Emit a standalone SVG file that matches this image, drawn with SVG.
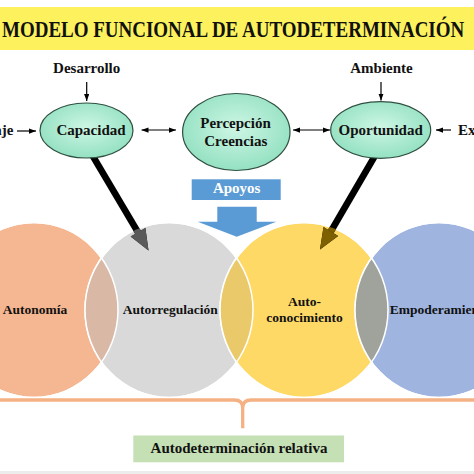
<svg xmlns="http://www.w3.org/2000/svg" xmlns:xlink="http://www.w3.org/1999/xlink" width="474" height="474" viewBox="0 0 474 474">
  <style>
    text { font-family: "Liberation Serif", "DejaVu Serif", serif; font-weight: bold; fill: #111; }
    .lbl { font-size: 15px; text-anchor: middle; }
    .cir { font-size: 13.5px; text-anchor: middle; }
    .thin { stroke: #000; stroke-width: 1.2; fill: none; marker-end: url(#ah); }
    .dbl { marker-start: url(#ahs); }
    .oval { fill: url(#mint); stroke: #2f4f40; stroke-width: 1.2; }
    .big { stroke: #fff; stroke-width: 1.5; }
  </style>
  <defs>
    <radialGradient id="mint" cx="50%" cy="45%" r="60%">
      <stop offset="0" stop-color="#cdf6e4"/>
      <stop offset="1" stop-color="#8fdfbf"/>
    </radialGradient>
    <marker id="ah" viewBox="0 0 8 6" markerWidth="7" markerHeight="5.5" refX="8" refY="3" orient="auto" markerUnits="userSpaceOnUse">
      <path d="M0,0 L8,3 L0,6 z" fill="#000"/>
    </marker>
    <marker id="ahs" viewBox="0 0 8 6" markerWidth="7" markerHeight="5.5" refX="8" refY="3" orient="auto-start-reverse" markerUnits="userSpaceOnUse">
      <path d="M0,0 L8,3 L0,6 z" fill="#000"/>
    </marker>
    <clipPath id="cO"><ellipse cx="34" cy="310" rx="84" ry="87.5"/></clipPath>
    <clipPath id="cG"><ellipse cx="169" cy="310" rx="84" ry="87.5"/></clipPath>
    <clipPath id="cY"><ellipse cx="304" cy="310" rx="84" ry="87.5"/></clipPath>
    <clipPath id="cB"><ellipse cx="439" cy="310" rx="84" ry="87.5"/></clipPath>
    <g id="arr1">
      <line x1="91" y1="153" x2="139" y2="234" stroke="currentColor" stroke-width="6.5"/>
      <polygon points="148.5,250.5 130.7,236.5 145.4,228.1" fill="currentColor"/>
    </g>
    <g id="arr2">
      <line x1="376" y1="154" x2="330.8" y2="231.5" stroke="currentColor" stroke-width="6.5"/>
      <polygon points="320,249.5 338.1,235.9 323.5,227.1" fill="currentColor"/>
    </g>
  </defs>

  <rect width="474" height="474" fill="#fff"/>
  <rect x="0" y="471" width="474" height="3" fill="#ececec"/>

  <g id="title">
    <rect x="0" y="7" width="474" height="43" fill="#fdf25e"/>
    <text x="2" y="31.4" font-size="19" transform="scale(1 1.18)">MODELO FUNCIONAL DE AUTODETERMINACIÓN</text>
  </g>

  <g id="circles">
    <g id="autonomia">
      <ellipse class="big" cx="34" cy="310" rx="84" ry="87.5" fill="#f5b791"/>
    </g>
    <g id="autorregulacion">
      <ellipse class="big" cx="169" cy="310" rx="84" ry="87.5" fill="#d9d9d9"/>
    </g>
    <g id="autoconocimiento">
      <ellipse class="big" cx="304" cy="310" rx="84" ry="87.5" fill="#ffd966"/>
    </g>
    <g id="empoderamiento">
      <ellipse class="big" cx="439" cy="310" rx="84" ry="87.5" fill="#9fb5e0"/>
    </g>
    <g id="lenses">
      <ellipse cx="169" cy="310" rx="84" ry="87.5" fill="#d9b8a6" clip-path="url(#cO)"/>
      <ellipse cx="304" cy="310" rx="84" ry="87.5" fill="#e9c96a" clip-path="url(#cG)"/>
      <ellipse cx="439" cy="310" rx="84" ry="87.5" fill="#9fa39b" clip-path="url(#cY)"/>
      <g fill="none" stroke="#fff" stroke-width="1.5">
        <ellipse cx="34" cy="310" rx="84" ry="87.5"/>
        <ellipse cx="169" cy="310" rx="84" ry="87.5"/>
        <ellipse cx="304" cy="310" rx="84" ry="87.5"/>
        <ellipse cx="439" cy="310" rx="84" ry="87.5"/>
      </g>
    </g>
    <text class="cir" x="35" y="313.5">Autonomía</text>
    <text class="cir" x="170.3" y="313.5">Autorregulación</text>
    <text class="cir" x="304.5" y="306">Auto-</text>
    <text class="cir" x="304.5" y="321.7">conocimiento</text>
    <text class="cir" x="389.7" y="313.5" style="text-anchor:start">Empoderamiento</text>
  </g>

  <g id="connectors">
    <line class="thin" x1="86.7" y1="82" x2="86.7" y2="101"/>
    <line class="thin" x1="381" y1="82" x2="381" y2="100.5"/>
    <line class="thin" x1="17" y1="131" x2="36" y2="131"/>
    <line class="thin" x1="451" y1="130" x2="436" y2="130"/>
    <line class="thin dbl" x1="141.5" y1="130" x2="176" y2="130"/>
    <line class="thin dbl" x1="293" y1="130" x2="330" y2="130"/>
    <use xlink:href="#arr1" href="#arr1" color="#000"/>
    <use xlink:href="#arr1" href="#arr1" color="#5a5a5a" clip-path="url(#cG)"/>
    <use xlink:href="#arr2" href="#arr2" color="#000"/>
    <use xlink:href="#arr2" href="#arr2" color="#7f6000" clip-path="url(#cY)"/>
  </g>

  <g id="capacidad">
    <ellipse class="oval" cx="86.5" cy="130.5" rx="46.5" ry="27.5"/>
    <text class="lbl" x="91" y="135">Capacidad</text>
  </g>
  <g id="percepcion">
    <ellipse class="oval" cx="236.3" cy="132" rx="53.7" ry="38.5"/>
    <text class="lbl" x="235.5" y="128.3">Percepción</text>
    <text class="lbl" x="235.8" y="145.7">Creencias</text>
  </g>
  <g id="oportunidad">
    <ellipse class="oval" cx="380.7" cy="130" rx="50" ry="28.3"/>
    <text class="lbl" x="380.7" y="135" font-size="16">Oportunidad</text>
  </g>
  <g id="desarrollo">
    <text class="lbl" x="86.7" y="73.3">Desarrollo</text>
  </g>
  <g id="ambiente">
    <text class="lbl" x="381.5" y="73.3">Ambiente</text>
  </g>
  <g id="aprendizaje">
    <text class="lbl" x="13.5" y="135" style="text-anchor:end">Aprendizaje</text>
  </g>
  <g id="experiencia">
    <text class="lbl" x="458" y="135" style="text-anchor:start">Experiencia</text>
  </g>

  <g id="apoyos">
    <rect x="191.7" y="179.3" width="89" height="20.7" fill="#5b9bd5"/>
    <text class="lbl" x="236.7" y="193.3" style="fill:#fff">Apoyos</text>
    <polygon points="217.3,206.7 256.7,206.7 256.7,221.7 276.3,221.7 236.7,236.7 197.7,221.7 217.3,221.7" fill="#5b9bd5"/>
  </g>

  <g id="brace">
    <path d="M0,400 H234.5 Q242.7,400 242.7,408 V428.3 M242.7,408 Q242.7,400 251,400 H474" fill="none" stroke="#f4b183" stroke-width="3.3"/>
  </g>

  <g id="resultado">
    <rect x="133.3" y="435.5" width="210.7" height="26.8" fill="#c5e0b4"/>
    <text class="lbl" x="239" y="453.3">Autodeterminación relativa</text>
  </g>
</svg>
